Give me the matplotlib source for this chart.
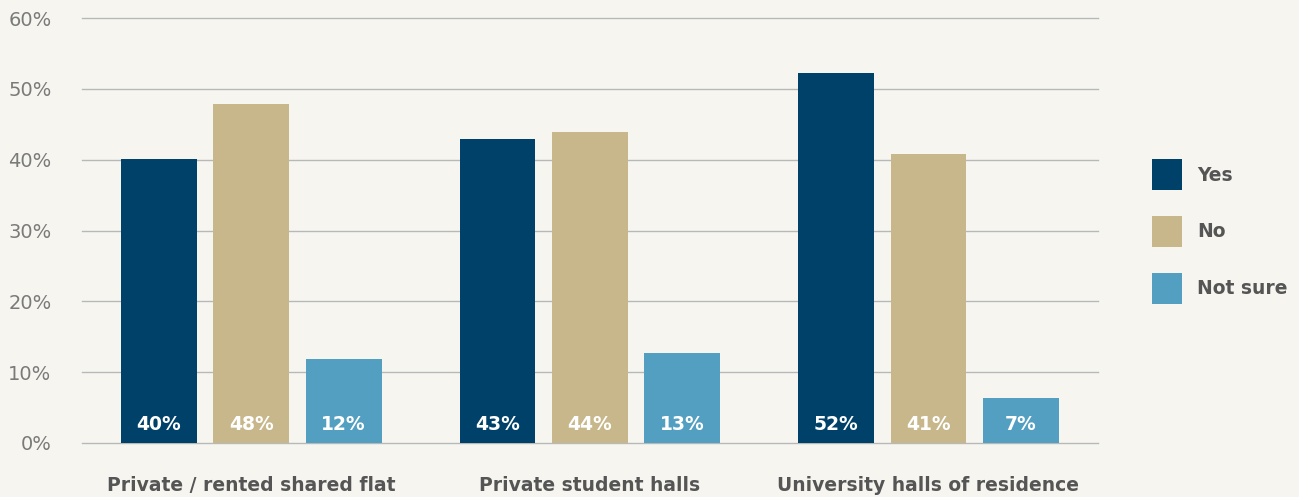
import numpy as np
import matplotlib.pyplot as plt
from matplotlib.patches import Patch

plt.rcParams['font.family'] = ['DejaVu Sans']

# data
categories = ['Private / rented shared flat', 'Private student halls', 'University halls of residence']
series = ['Yes', 'No', 'Not sure']
yes_vals = [40.1, 42.9, 52.2]
no_vals = [47.9, 43.9, 40.8]
notsure_vals = [11.9, 12.7, 6.4]
yes_labels = ['40%', '43%', '52%']
no_labels = ['48%', '44%', '41%']
notsure_labels = ['12%', '13%', '7%']
yticks = [0, 10, 20, 30, 40, 50, 60]

colors = ['#00416a', '#c8b78a', '#539fc1']
bg = '#f6f5f0'

fig = plt.figure(figsize=(12.99, 4.97), dpi=100, facecolor=bg)
ax = fig.add_axes([0.0631, 0.1087, 0.782, 0.855], facecolor=bg)

x = np.arange(len(categories))
offset = 0.273
width = 0.224
all_vals = [yes_vals, no_vals, notsure_vals]
all_labels = [yes_labels, no_labels, notsure_labels]

for i, (vals, labs) in enumerate(zip(all_vals, all_labels)):
    xs = x + (i - 1) * offset
    ax.bar(xs, vals, width, color=colors[i], zorder=3)
    for xi, lab in zip(xs, labs):
        ax.text(xi, 2.6, lab, color='white', fontsize=13.5, fontweight='bold',
                ha='center', va='center', zorder=4)

ax.set_xlim(-0.5, 2.5)
ax.set_ylim(0, 60)
ax.set_yticks(yticks)
ax.set_yticklabels([f'{v}%' for v in yticks], fontsize=14, color='#7a7a7a')
ax.set_xticks(x)
ax.set_xticklabels(categories, fontsize=13.5, fontweight='bold', color='#555555')
ax.tick_params(axis='y', length=0, pad=22)
ax.tick_params(axis='x', length=0, pad=24)
ax.grid(axis='y', color='#b8b8b8', linewidth=1.0, zorder=0)
for gl in ax.get_ygridlines():
    gl.set_clip_on(False)
for s in ax.spines.values():
    s.set_visible(False)

handles = [Patch(facecolor=c, edgecolor='none') for c in colors]
fig.legend(handles, series, loc='center left', bbox_to_anchor=(0.8735, 0.534),
           frameon=False, prop={'size': 13.5, 'weight': 'bold'},
           labelcolor='#555555', handlelength=1.65, handleheight=2.165,
           labelspacing=1.38, handletextpad=0.8)

fig.savefig('out.png', dpi=100, facecolor=bg)
